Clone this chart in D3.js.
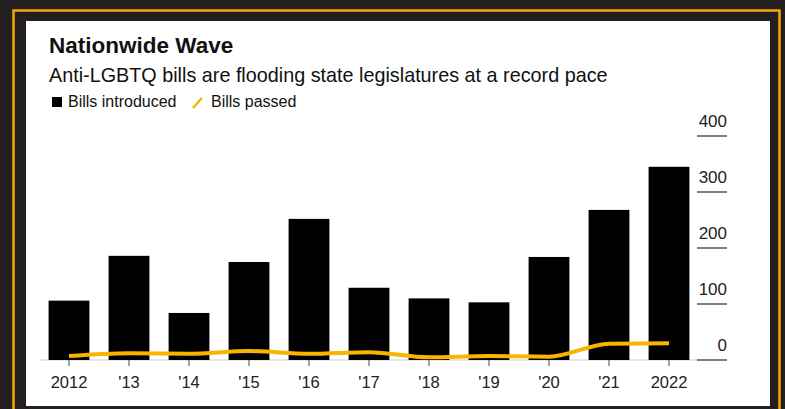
<!DOCTYPE html>
<html>
<head>
<meta charset="utf-8">
<script src="https://cdn.jsdelivr.net/npm/d3@7"></script>
<style>
  html, body { margin: 0; padding: 0; background: #231f20; }
  svg { display: block; font-family: 'Liberation Sans', Arial, sans-serif; }
</style>
</head>
<body>
<div id="chart"></div>
<script>
const years = ['2012', "'13", "'14", "'15", "'16", "'17", "'18", "'19", "'20", "'21", '2022']
const billsIntroduced = [106, 186, 84, 175, 252, 129, 110, 103, 184, 268, 345]
const billsPassed = [7, 12, 11, 16, 11, 14, 5, 7, 6, 29, 30]
const yTicks = [0, 100, 200, 300, 400]

const width = 785,
  height = 409

const svg = d3.select('#chart').append('svg')
  .attr('width', width)
  .attr('height', height)

// frame
svg.append('rect')
  .attr('x', 0).attr('y', 0).attr('width', width).attr('height', height)
  .attr('fill', '#231f20')
svg.append('rect')
  .attr('x', 13.5).attr('y', 10.5).attr('width', 766).attr('height', 420)
  .attr('fill', 'none')
  .attr('stroke', '#f5a900')
  .attr('stroke-width', 2.5)
svg.append('rect')
  .attr('x', 26).attr('y', 21).attr('width', 744).attr('height', 385)
  .attr('fill', '#fff')

// titles
svg.append('text')
  .attr('x', 49).attr('y', 53)
  .style('font-size', '22.5px')
  .style('font-weight', 'bold')
  .style('fill', '#111')
  .text('Nationwide Wave')
svg.append('text')
  .attr('x', 49).attr('y', 82)
  .style('font-size', '19.8px')
  .style('fill', '#111')
  .text('Anti-LGBTQ bills are flooding state legislatures at a record pace')

// legend
const legend = svg.append('g').style('font-size', '16px').style('fill', '#111')
legend.append('rect')
  .attr('x', 52).attr('y', 97).attr('width', 10).attr('height', 10)
  .attr('fill', '#000')
legend.append('text').attr('x', 68).attr('y', 107).text('Bills introduced')
legend.append('line')
  .attr('x1', 193).attr('y1', 108).attr('x2', 202).attr('y2', 98)
  .attr('stroke', '#f7b500').attr('stroke-width', 2.5)
legend.append('text').attr('x', 211).attr('y', 107).text('Bills passed')

// scales
const x = d3.scaleBand()
  .domain(years)
  .range([39, 699])
  .paddingInner(0.32)
  .paddingOuter(0.16)
const y = d3.scaleLinear()
  .domain([0, 400])
  .range([360, 136])

// baseline
svg.append('line')
  .attr('x1', 40).attr('x2', 697)
  .attr('y1', y(0)).attr('y2', y(0))
  .attr('stroke', '#ccc').attr('stroke-width', 1)

// bars
svg.selectAll('.bar').data(years)
  .enter().append('rect')
  .attr('class', 'bar')
  .attr('x', d => x(d))
  .attr('y', (d, i) => y(billsIntroduced[i]))
  .attr('width', x.bandwidth())
  .attr('height', (d, i) => y(0) - y(billsIntroduced[i]))
  .attr('fill', '#000')

// x axis
const xAxis = d3.axisBottom(x).tickSize(6).tickPadding(10)
const gx = svg.append('g')
  .attr('transform', `translate(0, ${y(0)})`)
  .call(xAxis)
gx.select('.domain').remove()
gx.selectAll('line').attr('stroke', '#666').attr('stroke-width', 1.2)
gx.selectAll('text')
  .style('font-size', '16.5px')
  .style('font-family', "'Liberation Sans', Arial, sans-serif")
  .style('fill', '#222')

// y axis on the right: label above a short rule
const gy = svg.append('g')
gy.selectAll('line').data(yTicks)
  .enter().append('line')
  .attr('x1', 697).attr('x2', 727)
  .attr('y1', d => y(d)).attr('y2', d => y(d))
  .attr('stroke', '#555').attr('stroke-width', 1.5)
gy.selectAll('text').data(yTicks)
  .enter().append('text')
  .attr('x', 727)
  .attr('y', d => y(d) - 9)
  .attr('text-anchor', 'end')
  .style('font-size', '17px')
  .style('fill', '#222')
  .text(d => d)

// passed line
const line = d3.line()
  .x((d, i) => x(years[i]) + x.bandwidth() / 2)
  .y(d => y(d))
  .curve(d3.curveMonotoneX)
svg.append('path')
  .datum(billsPassed)
  .attr('d', line)
  .attr('fill', 'none')
  .attr('stroke', '#f7b500')
  .attr('stroke-width', 4)
</script>
</body>
</html>
